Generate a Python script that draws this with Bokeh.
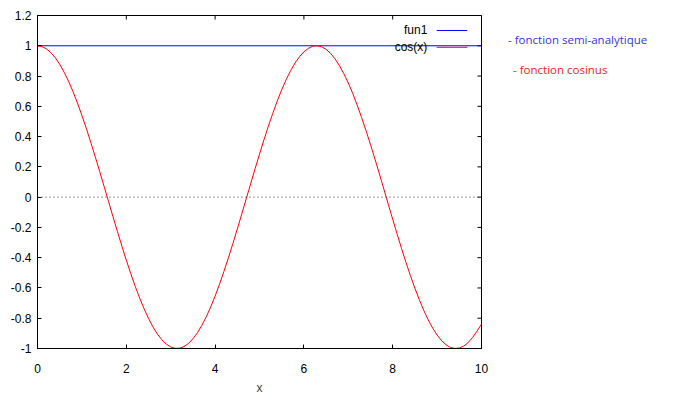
import math
from bokeh.plotting import figure
from bokeh.models import Label, Span, FixedTicker, Range1d, Div
from bokeh.layouts import row
from bokeh.embed import file_html
from bokeh.resources import INLINE

# ---- data ----
x_vals = [i / 10 for i in range(0, 101)]
cos_vals = [1.000, 0.995, 0.980, 0.955, 0.921, 0.878, 0.825, 0.765, 0.697, 0.622,
            0.540, 0.454, 0.362, 0.267, 0.170, 0.071, -0.029, -0.129, -0.227, -0.323,
            -0.416, -0.505, -0.589, -0.666, -0.737, -0.801, -0.857, -0.904, -0.942, -0.971,
            -0.990, -0.999, -0.998, -0.987, -0.967, -0.936, -0.897, -0.848, -0.791, -0.726,
            -0.654, -0.575, -0.490, -0.401, -0.307, -0.211, -0.112, -0.012, 0.087, 0.187,
            0.284, 0.378, 0.469, 0.554, 0.635, 0.709, 0.776, 0.835, 0.886, 0.927,
            0.960, 0.983, 0.997, 1.000, 0.993, 0.977, 0.950, 0.914, 0.869, 0.815,
            0.754, 0.685, 0.608, 0.526, 0.439, 0.347, 0.252, 0.154, 0.054, -0.046,
            -0.146, -0.244, -0.340, -0.432, -0.519, -0.602, -0.678, -0.748, -0.811, -0.865,
            -0.911, -0.948, -0.975, -0.993, -1.000, -0.997, -0.984, -0.961, -0.927, -0.885,
            -0.839]
fun1_x = [0, 10]
fun1_y = [1, 1]
x_ticks = [0, 2, 4, 6, 8, 10]
y_ticks = [-1.0, -0.8, -0.6, -0.4, -0.2, 0.0, 0.2, 0.4, 0.6, 0.8, 1.0, 1.2]
y_tick_labels = {-1.0: "-1", -0.8: "-0.8", -0.6: "-0.6", -0.4: "-0.4", -0.2: "-0.2", 0.0: "0",
                 0.2: "0.2", 0.4: "0.4", 0.6: "0.6", 0.8: "0.8", 1.0: "1", 1.2: "1.2"}
legend_names = ["fun1", "cos(x)"]
note_texts = ["- fonction semi-analytique", "- fonction cosinus"]

X_MIN, X_MAX = 0, 10
Y_MIN, Y_MAX = -1, 1.2

BLUE = "#0000ff"
RED = "#ff0000"
FONT = "Liberation Sans"

p = figure(frame_width=444, frame_height=333, output_backend="svg", toolbar_location=None,
           x_range=Range1d(X_MIN, X_MAX), y_range=Range1d(Y_MIN, Y_MAX),
           min_border_left=37, min_border_top=15, min_border_bottom=47, min_border_right=10,
           x_axis_label="x")
p.background_fill_color = "white"
p.border_fill_color = "white"
p.outline_line_color = "black"
p.outline_line_width = 1
p.grid.visible = False

for ax in [p.xaxis[0], p.yaxis[0]]:
    ax.major_tick_in = 4
    ax.major_tick_out = 0
    ax.minor_tick_in = 0
    ax.minor_tick_out = 0
    ax.axis_line_color = "black"
    ax.major_tick_line_color = "black"
    ax.major_label_text_font = FONT
    ax.major_label_text_font_size = "12px"
    ax.major_label_text_color = "black"

p.xaxis[0].ticker = FixedTicker(ticks=x_ticks)
p.yaxis[0].ticker = FixedTicker(ticks=y_ticks)
p.yaxis[0].major_label_overrides = y_tick_labels
p.xaxis[0].major_label_standoff = 15
p.yaxis[0].major_label_standoff = 6
p.xaxis[0].axis_label_text_font = FONT
p.xaxis[0].axis_label_text_font_size = "12px"
p.xaxis[0].axis_label_text_font_style = "normal"
p.xaxis[0].axis_label_standoff = 5

# mirror ticks on top and right (inward, 4 px)
p.ray(x=x_ticks, y=[Y_MAX] * len(x_ticks), length=4, length_units="screen",
      angle=-math.pi / 2, line_color="black", line_width=1)
p.ray(x=[X_MAX] * len(y_ticks), y=y_ticks, length=4, length_units="screen",
      angle=math.pi, line_color="black", line_width=1)

# zero line
p.add_layout(Span(location=0, dimension="width", line_color="#333333", line_width=1,
                  line_dash="1 3"))

# curves
p.line(fun1_x, fun1_y, line_color=BLUE, line_width=1)
p.line(x_vals, cos_vals, line_color=RED, line_width=1)

# key (gnuplot style: text left, sample right)
key_y = [1.101, 0.99]
key_colors = [BLUE, RED]
for name, ky, col in zip(legend_names, key_y, key_colors):
    p.add_layout(Label(x=8.78, y=ky, text=name, text_align="right", text_baseline="middle",
                       text_font=FONT, text_font_size="12px", text_color="black"))
    p.segment(x0=[8.99], y0=[ky], x1=[9.68], y1=[ky], line_color=col, line_width=1)

# notes on the right
note_colors = ["#3636d8", "#f01c24"]
note_left = [17, 22]
note_top = [32, 62]
html = '<div style="position:relative;width:190px;height:395px;">'
for t, c, l, tp in zip(note_texts, note_colors, note_left, note_top):
    html += ('<div style="position:absolute;left:%dpx;top:%dpx;white-space:nowrap;'
             'font-family:\'Open Sans\';font-size:11.5px;line-height:15px;color:%s;">%s</div>'
             % (l, tp, c, t))
html += '</div>'
notes = Div(text=html, width=190, height=395, margin=0)

layout = row(p, notes, spacing=0)
open("out.html", "w").write(file_html(layout, INLINE))
